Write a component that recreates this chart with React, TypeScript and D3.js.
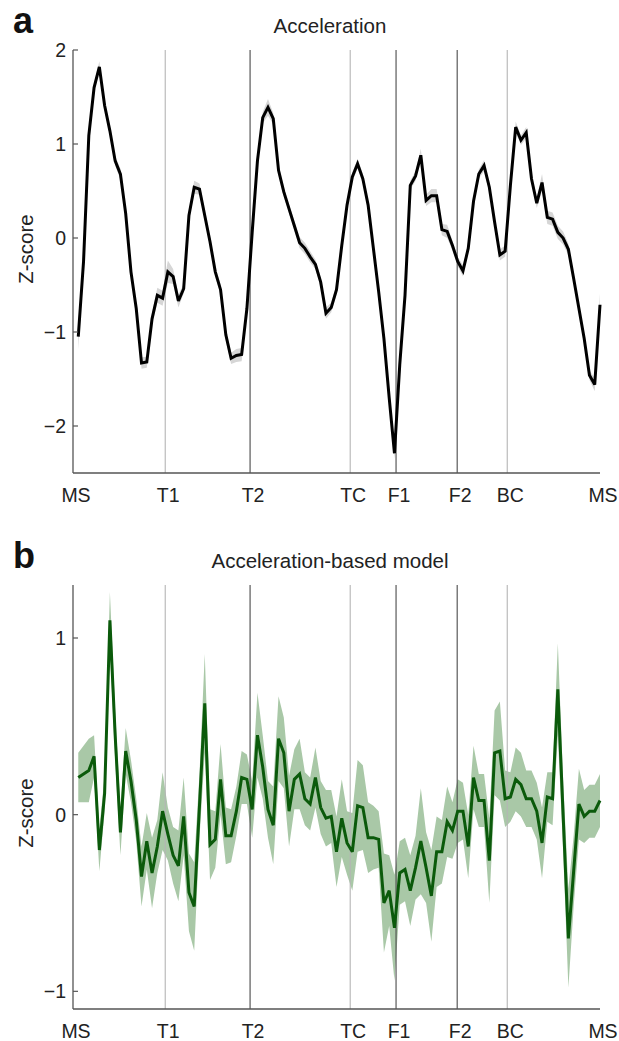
import React from "react";
import * as d3 from "d3";

const phaseLabels = ["MS", "T1", "T2", "TC", "F1", "F2", "BC", "MS"];
const phasePos = [0, 17.5, 33.6, 52.6, 61.3, 72.9, 82.4, 100];
const phaseDark = [false, false, true, false, true, true, false, false];

const accelMean = [
  -1.05, -0.25, 1.09, 1.6, 1.82, 1.41, 1.14, 0.82, 0.68, 0.26,
  -0.36, -0.75, -1.33, -1.32, -0.86, -0.61, -0.64, -0.36, -0.41, -0.67,
  -0.54, 0.24, 0.54, 0.52, 0.24, -0.04, -0.36, -0.55, -1.03, -1.28,
  -1.25, -1.24, -0.75, 0.06, 0.82, 1.28, 1.39, 1.27, 0.72, 0.49,
  0.31, 0.13, -0.05, -0.11, -0.2, -0.28, -0.47, -0.8, -0.74, -0.55,
  -0.08, 0.35, 0.65, 0.79, 0.63, 0.35, -0.11, -0.57, -1.07, -1.7,
  -2.29, -1.35, -0.61, 0.56, 0.66, 0.88, 0.4, 0.45, 0.45, 0.09,
  0.07, -0.08, -0.25, -0.35, -0.11, 0.39, 0.68, 0.77, 0.54, 0.17,
  -0.18, -0.14, 0.56, 1.18, 1.04, 1.12, 0.63, 0.37, 0.59, 0.22,
  0.2, 0.06, 0.0, -0.12, -0.43, -0.75, -1.07, -1.46, -1.56, -0.71,
];
const accelSem = [
  0.14, 0.06, 0.05, 0.05, 0.06, 0.05, 0.05, 0.05, 0.06, 0.05,
  0.05, 0.05, 0.06, 0.06, 0.06, 0.08, 0.08, 0.12, 0.08, 0.07,
  0.05, 0.05, 0.07, 0.06, 0.05, 0.05, 0.05, 0.06, 0.06, 0.06,
  0.07, 0.07, 0.05, 0.05, 0.05, 0.06, 0.09, 0.06, 0.05, 0.05,
  0.05, 0.05, 0.06, 0.06, 0.06, 0.05, 0.05, 0.06, 0.05, 0.05,
  0.05, 0.05, 0.05, 0.05, 0.05, 0.05, 0.05, 0.05, 0.05, 0.05,
  0.06, 0.05, 0.05, 0.05, 0.05, 0.07, 0.06, 0.07, 0.07, 0.06,
  0.07, 0.05, 0.05, 0.06, 0.05, 0.05, 0.05, 0.06, 0.05, 0.05,
  0.06, 0.06, 0.05, 0.06, 0.05, 0.06, 0.05, 0.05, 0.09, 0.07,
  0.07, 0.07, 0.07, 0.06, 0.05, 0.05, 0.05, 0.05, 0.07, 0.12,
];

const modelMean = [
  0.21, 0.23, 0.25, 0.33, -0.2, 0.12, 1.1, 0.45, -0.1, 0.36,
  0.19, -0.03, -0.35, -0.15, -0.33, -0.18, 0.02, -0.11, -0.23, -0.29,
  -0.01, -0.44, -0.52, 0.05, 0.63, -0.17, -0.14, 0.2, -0.12, -0.12,
  0.02, 0.21, 0.2, 0.03, 0.45, 0.27, 0.03, -0.06, 0.43, 0.35,
  0.02, 0.2, 0.23, 0.09, 0.06, 0.21, 0.04, -0.02, -0.01, -0.21,
  -0.02, -0.16, -0.21, 0.05, 0.04, -0.13, -0.13, -0.14, -0.5, -0.43,
  -0.64, -0.33, -0.31, -0.43, -0.3, -0.15, -0.3, -0.46, -0.21, -0.21,
  -0.04, -0.09, 0.02, 0.02, -0.18, 0.21, 0.08, 0.08, -0.26, 0.35,
  0.36, 0.09, 0.1, 0.2, 0.17, 0.09, 0.09, 0.02, -0.16, 0.1,
  0.09, 0.71, 0.0, -0.7, -0.32, 0.06, -0.01, 0.02, 0.02, 0.08,
];
const modelSem = [
  0.14, 0.16, 0.18, 0.12, 0.12, 0.1, 0.16, 0.14, 0.13, 0.13,
  0.12, 0.12, 0.17, 0.16, 0.2, 0.15, 0.22, 0.15, 0.16, 0.2,
  0.22, 0.22, 0.25, 0.18, 0.28, 0.2, 0.16, 0.2, 0.16, 0.15,
  0.14, 0.15, 0.14, 0.16, 0.24, 0.18, 0.16, 0.22, 0.24, 0.2,
  0.2, 0.17, 0.2, 0.15, 0.15, 0.17, 0.15, 0.16, 0.15, 0.2,
  0.22, 0.18, 0.22, 0.26, 0.24, 0.2, 0.18, 0.16, 0.28, 0.2,
  0.3, 0.18, 0.18, 0.2, 0.18, 0.3, 0.2, 0.26, 0.2, 0.18,
  0.2, 0.16, 0.18, 0.16, 0.18, 0.18, 0.15, 0.15, 0.24, 0.24,
  0.28, 0.16, 0.14, 0.18, 0.18, 0.16, 0.16, 0.16, 0.2, 0.14,
  0.15, 0.26, 0.2, 0.28, 0.2, 0.2, 0.15, 0.15, 0.15, 0.15,
];

const topTicks = [2, 1, 0, -1, -2];
const bottomTicks = [1, 0, -1];

const FONT = "'Liberation Sans', Arial, Helvetica, sans-serif";
const X0 = 73;
const X1 = 600;

type PanelProps = {
  letter: string;
  title: string;
  mean: number[];
  sem: number[];
  domain: [number, number];
  ticks: number[];
  top: number;
  bottom: number;
  lineColor: string;
  bandColor: string;
  ylabelY: number;
};

function Panel(p: PanelProps) {
  const x = d3.scaleLinear().domain([0, 100]).range([X0, X1]);
  const y = d3.scaleLinear().domain(p.domain).range([p.bottom, p.top]);
  const pts = p.mean.map((v, i) => ({ i: i + 1, v, s: p.sem[i] }));
  const line = d3
    .line<{ i: number; v: number; s: number }>()
    .x((d) => x(d.i))
    .y((d) => y(d.v));
  const area = d3
    .area<{ i: number; v: number; s: number }>()
    .x((d) => x(d.i))
    .y0((d) => y(d.v - d.s))
    .y1((d) => y(d.v + d.s));
  const fmt = (t: number) => (t < 0 ? "\u2212" + Math.abs(t) : String(t));
  return (
    <g>
      <text
        x={13}
        y={p.top - 17}
        fontFamily={FONT}
        fontWeight="bold"
        fontSize={36}
        fill="#111"
      >
        {p.letter}
      </text>
      <text
        x={330}
        y={p.top - 17}
        textAnchor="middle"
        fontFamily={FONT}
        fontSize={20.5}
        fill="#222"
      >
        {p.title}
      </text>
      <path d={area(pts) || ""} fill={p.bandColor} stroke="none" />
      {phasePos.slice(1, 7).map((ph, k) => (
        <line
          key={k}
          x1={x(ph)}
          x2={x(ph)}
          y1={p.top}
          y2={p.bottom}
          stroke={phaseDark[k + 1] ? "#4a4a4a" : "#b5b5b5"}
          strokeWidth={1.1}
        />
      ))}
      <path
        d={line(pts) || ""}
        fill="none"
        stroke={p.lineColor}
        strokeWidth={3}
        strokeLinejoin="miter"
        strokeMiterlimit={3}
      />
      <line x1={X0} x2={X0} y1={p.top} y2={p.bottom} stroke="#555" strokeWidth={1.3} />
      <line x1={X0} x2={X1} y1={p.bottom} y2={p.bottom} stroke="#555" strokeWidth={1.3} />
      {p.ticks.map((t) => (
        <g key={t}>
          <line x1={X0} x2={X0 + 5} y1={y(t)} y2={y(t)} stroke="#555" strokeWidth={1.2} />
          <text
            x={X0 - 7}
            y={y(t)}
            dy="0.36em"
            textAnchor="end"
            fontFamily={FONT}
            fontSize={19.5}
            fill="#222"
          >
            {fmt(t)}
          </text>
        </g>
      ))}
      {phaseLabels.map((lab, k) => (
        <text
          key={k}
          x={x(phasePos[k]) + 3}
          y={p.bottom + 29}
          textAnchor="middle"
          fontFamily={FONT}
          fontSize={19.5}
          fill="#222"
        >
          {lab}
        </text>
      ))}
      <text
        transform={`translate(33,${p.ylabelY}) rotate(-90)`}
        textAnchor="middle"
        fontFamily={FONT}
        fontSize={20.5}
        fill="#222"
      >
        Z-score
      </text>
    </g>
  );
}

export default function App() {
  return (
    <svg
      width={619}
      height={1041}
      style={{ position: "absolute", left: 0, top: 0, background: "#fff" }}
    >
      <rect x={0} y={0} width={619} height={1041} fill="#fff" />
      <Panel
        letter="a"
        title="Acceleration"
        mean={accelMean}
        sem={accelSem}
        domain={[-2.5, 2]}
        ticks={topTicks}
        top={50}
        bottom={473}
        lineColor="#000"
        bandColor="#d6d6d6"
        ylabelY={249}
      />
      <Panel
        letter="b"
        title="Acceleration-based model"
        mean={modelMean}
        sem={modelSem}
        domain={[-1.1, 1.3]}
        ticks={bottomTicks}
        top={585}
        bottom={1009}
        lineColor="#0b5a0b"
        bandColor="#a9c8a7"
        ylabelY={813}
      />
    </svg>
  );
}
